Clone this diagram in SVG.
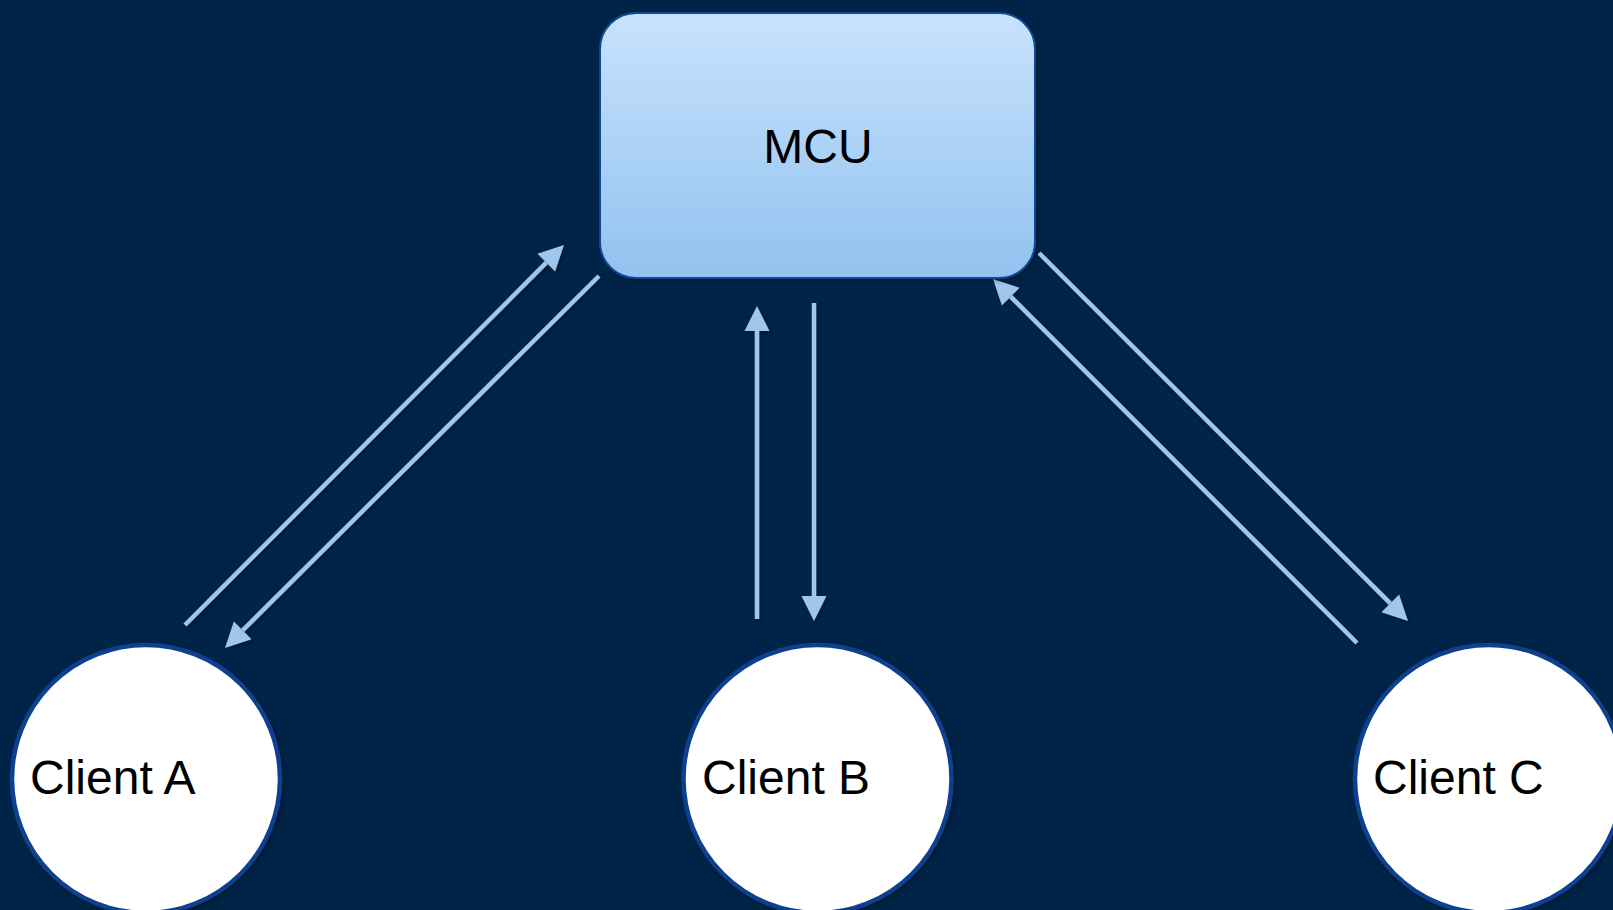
<svg xmlns="http://www.w3.org/2000/svg" width="1613" height="910" viewBox="0 0 1613 910">
  <defs>
    <linearGradient id="mcuGrad" x1="0" y1="0" x2="0" y2="1">
      <stop offset="0" stop-color="#c8e2fd"/>
      <stop offset="1" stop-color="#92c2ef"/>
    </linearGradient>
    <filter id="shadow" filterUnits="userSpaceOnUse" x="0" y="0" width="1613" height="910">
      <feDropShadow dx="2" dy="2" stdDeviation="2" flood-color="#000000" flood-opacity="0.35"/>
    </filter>
    <marker id="arrow" markerUnits="userSpaceOnUse" markerWidth="30" markerHeight="30" refX="0" refY="0" orient="auto" overflow="visible">
      <path d="M0,-12.5 L25,0 L0,12.5 Z" fill="#9fc6eb"/>
    </marker>
    <style>
      .conn { stroke: #9fc6eb; stroke-width: 4.5; fill: none; marker-end: url(#arrow); }
      .client { fill: #ffffff; stroke: #0b3f8f; stroke-width: 4.5; filter: url(#shadow); }
      .label { font-family: "Liberation Sans", Arial, sans-serif; font-size: 48px; fill: #000000; }
    </style>
  </defs>
  <rect x="0" y="0" width="1613" height="910" fill="#002447"/>

  <g id="connectors" filter="url(#shadow)">
    <line class="conn" x1="185" y1="625" x2="546.3" y2="262.7"/>
    <line class="conn" x1="599" y1="276" x2="242.7" y2="630.3"/>
    <line class="conn" x1="757" y1="619" x2="757" y2="331"/>
    <line class="conn" x1="814" y1="303" x2="814" y2="596"/>
    <line class="conn" x1="1039" y1="253" x2="1390.3" y2="603.3"/>
    <line class="conn" x1="1357" y1="643" x2="1010.7" y2="296.7"/>
  </g>

  <g id="mcu">
    <rect x="600" y="13" width="435" height="265" rx="36" ry="36" fill="url(#mcuGrad)" stroke="#0d4a9a" stroke-width="2" filter="url(#shadow)"/>
    <text class="label" x="818" y="163" text-anchor="middle">MCU</text>
  </g>

  <g id="client-a">
    <circle class="client" cx="146" cy="779" r="134"/>
    <text class="label" x="30" y="794">Client A</text>
  </g>

  <g id="client-b">
    <circle class="client" cx="817.5" cy="779" r="134"/>
    <text class="label" x="702" y="794">Client B</text>
  </g>

  <g id="client-c">
    <circle class="client" cx="1489" cy="779" r="134"/>
    <text class="label" x="1373" y="794">Client C</text>
  </g>
</svg>
